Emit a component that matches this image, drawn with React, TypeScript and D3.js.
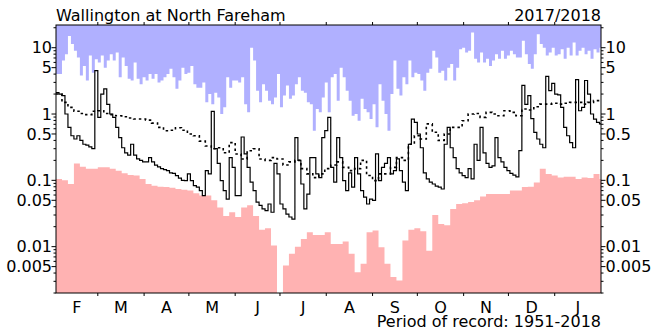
import * as d3 from 'd3';

const TITLE = 'Wallington at North Fareham';
const YEAR_LABEL = '2017/2018';
const RECORD_LABEL = 'Period of record: 1951-2018';
const MONTHS = ['F', 'M', 'A', 'M', 'J', 'J', 'A', 'S', 'O', 'N', 'D', 'J'];
const MONTH_DAYS = [28, 31, 30, 31, 30, 31, 31, 30, 31, 30, 31, 31];
const Y_TICKS = [0.005, 0.01, 0.05, 0.1, 0.5, 1, 5, 10];

// flows in m3/s, one value per 2 days from 1 Feb 2017
const dailyFlow = [
  2.1, 2.0, 1.9, 1.0, 0.63, 0.47, 0.42, 0.47, 0.40, 0.35,
  0.34, 0.32, 0.30, 4.5, 0.89, 2.0, 2.4, 1.4, 1.0, 0.89,
  0.63, 0.44, 0.31, 0.26, 0.24, 0.35, 0.24, 0.21, 0.20, 0.19,
  0.19, 0.22, 0.19, 0.17, 0.16, 0.15, 0.145, 0.14, 0.13, 0.127,
  0.118, 0.108, 0.10, 0.099, 0.125, 0.099, 0.083, 0.079, 0.07, 0.059,
  0.14, 0.125, 1.1, 0.30, 0.18, 0.099, 0.07, 0.052, 0.22, 0.157,
  0.059, 0.059, 0.45, 0.25, 0.157, 0.094, 0.07, 0.047, 0.042, 0.037,
  0.035, 0.044, 0.033, 0.18, 0.125, 0.044, 0.037, 0.031, 0.028, 0.026,
  0.44, 0.20, 0.088, 0.037, 0.062, 0.22, 0.22, 0.125, 0.11, 0.44,
  0.56, 0.89, 0.157, 0.094, 0.44, 0.22, 0.099, 0.07, 0.13, 0.079,
  0.22, 0.125, 0.07, 0.056, 0.044, 0.052, 0.05, 0.25, 0.099, 0.157,
  0.18, 0.22, 0.125, 0.14, 0.21, 0.14, 0.094, 0.07, 0.35, 0.84,
  0.75, 0.5, 0.31, 0.13, 0.105, 0.094, 0.088, 0.082, 0.079, 0.074,
  0.35, 0.63, 0.31, 0.22, 0.15, 0.13, 0.118, 0.11, 0.15, 0.105,
  0.35, 0.20, 0.63, 0.26, 0.18, 0.157, 0.165, 0.44, 0.22, 0.19,
  0.157, 0.14, 0.127, 0.12, 0.113, 0.28, 2.7, 1.4, 1.9, 0.85,
  0.53, 0.42, 0.35, 0.31, 3.7, 2.25, 2.9, 2.0, 1.95, 1.26,
  0.63, 0.47, 0.37, 0.31, 3.3, 1.12, 1.26, 3.2, 2.0, 1.0,
  0.84, 0.75, 0.71,
];

// highest flow on record, 2-day steps
const maxFlow = [
  4.0, 4.0, 6.4, 8.0, 15, 11.4, 9.0, 7.1, 3.8, 5.3,
  3.2, 7.6, 4.2, 6.7, 6.0, 7.6, 5.0, 6.4, 8.0, 6.4,
  8.5, 3.6, 7.1, 5.3, 3.4, 3.2, 6.0, 3.4, 2.8, 3.6,
  3.2, 4.0, 3.4, 4.0, 3.0, 3.2, 3.6, 4.0, 4.8, 3.6,
  2.4, 3.2, 5.0, 4.0, 4.2, 5.3, 2.8, 2.5, 2.5, 3.0,
  1.5, 2.0, 1.4, 2.1, 1.78, 1.0, 1.26, 3.6, 2.5, 3.2,
  3.2, 3.0, 3.6, 1.41, 1.06, 10, 6.4, 2.25, 1.5, 2.8,
  2.25, 1.59, 1.41, 1.78, 4.0, 1.26, 1.9, 2.7, 1.7, 1.9,
  2.8, 3.6, 2.25, 2.1, 1.5, 1.41, 0.56, 1.19, 1.06, 1.78,
  3.0, 1.06, 3.6, 4.0, 1.59, 5.0, 3.6, 2.25, 1.59, 0.94,
  1.0, 0.79, 1.7, 1.19, 1.06, 0.84, 1.41, 0.63, 2.8, 1.59,
  1.0, 0.56, 2.0, 6.4, 2.4, 1.9, 3.6, 2.8, 6.4, 3.6,
  4.2, 4.0, 3.2, 2.25, 4.2, 4.8, 9.0, 7.1, 4.2, 4.5,
  3.2, 5.0, 5.7, 3.2, 5.0, 9.5, 10, 8.5, 9.0, 17,
  6.8, 6.0, 8.5, 6.0, 6.8, 5.3, 6.4, 8.0, 6.8, 9.0,
  6.8, 7.6, 9.0, 8.0, 7.1, 7.1, 12.7, 8.0, 5.7, 4.8,
  8.0, 16, 11.4, 10, 7.6, 8.5, 10, 7.6, 8.0, 9.5,
  6.8, 10, 7.6, 12, 7.6, 9.0, 10, 8.0, 9.0, 6.8,
  9.5, 8.5, 10,
];

// lowest flow on record, 4-day steps (0 = no flow)
const minFlow = [
  0.105, 0.1, 0.088, 0.18, 0.16, 0.15, 0.15, 0.157, 0.157, 0.15,
  0.14, 0.128, 0.12, 0.118, 0.105, 0.088, 0.083, 0.08, 0.079, 0.077,
  0.074, 0.072, 0.07, 0.064, 0.059, 0.059, 0.05, 0.039, 0.029, 0.033,
  0.028, 0.039, 0.042, 0.029, 0.018, 0.019, 0.0104, 0, 0.0052, 0.0078,
  0.01, 0.013, 0.0165, 0.015, 0.015, 0.0165, 0.011, 0.011, 0.012, 0.0078,
  0.0041, 0.0055, 0.0165, 0.0175, 0.0098, 0.0055, 0.0035, 0.0031, 0.0124, 0.018,
  0.019, 0.017, 0.0087, 0.03, 0.022, 0.021, 0.037, 0.044, 0.045, 0.047,
  0.05, 0.057, 0.062, 0.062, 0.062, 0.062, 0.07, 0.07, 0.079, 0.08,
  0.093, 0.15, 0.125, 0.118, 0.11, 0.113, 0.113, 0.105, 0.11, 0.108,
  0.125, 0.105,
];

// mean flow, 4-day steps
const meanFlow = [
  2.0, 1.5, 1.26, 1.1, 1.02, 0.98, 1.1, 1.12, 1.02, 0.98,
  0.94, 0.91, 0.87, 0.84, 0.84, 0.81, 0.73, 0.63, 0.56, 0.57,
  0.62, 0.57, 0.5, 0.47, 0.39, 0.33, 0.30, 0.31, 0.26, 0.37,
  0.25, 0.21, 0.28, 0.30, 0.21, 0.20, 0.22, 0.21, 0.17, 0.19,
  0.20, 0.15, 0.125, 0.11, 0.125, 0.15, 0.17, 0.19, 0.157, 0.14,
  0.15, 0.20, 0.118, 0.099, 0.125, 0.125, 0.157, 0.22, 0.20, 0.35,
  0.47, 0.42, 0.71, 0.53, 0.40, 0.50, 0.63, 0.63, 0.79, 1.0,
  1.02, 0.89, 1.06, 1.0, 0.94, 1.12, 1.06, 0.94, 1.19, 1.15,
  1.29, 1.41, 1.41, 1.45, 1.41, 1.45, 1.5, 1.5, 1.41, 1.5,
  1.59, 1.59,
];

const WIDTH = 660;
const HEIGHT = 333;
const MARGIN = { top: 25, right: 59, bottom: 40, left: 56 };
const DAYS = 365;
const FONT = '"DejaVu Sans", sans-serif';

type Pt = { d: number; v: number };

function steps(values: number[], every: number): Pt[] {
  const pts = values.map((v, i) => ({ d: Math.min(i * every, DAYS), v }));
  pts.push({ d: DAYS, v: values[values.length - 1] });
  return pts;
}

export default function App() {
  const left = MARGIN.left;
  const right = WIDTH - MARGIN.right;
  const top = MARGIN.top;
  const bottom = HEIGHT - MARGIN.bottom;

  const x = d3.scaleLinear().domain([0, DAYS]).range([left, right]);
  const y = d3.scaleLog().domain([0.002, 22]).range([bottom, top]).clamp(true);
  const yv = (v: number) => (v <= 0 ? bottom : y(v));

  const maxArea = d3.area<Pt>()
    .x((p) => x(p.d))
    .y0(top)
    .y1((p) => yv(p.v))
    .curve(d3.curveStepAfter);

  const minArea = d3.area<Pt>()
    .x((p) => x(p.d))
    .y0(bottom)
    .y1((p) => yv(p.v))
    .curve(d3.curveStepAfter);

  const line = d3.line<Pt>()
    .x((p) => x(p.d))
    .y((p) => yv(p.v))
    .curve(d3.curveStepAfter);

  // month boundaries and label positions
  const bounds = d3.cumsum(MONTH_DAYS);
  const starts = [0, ...Array.from(bounds).slice(0, -1)];

  // log ticks, 1..9 per decade
  const logTicks: { v: number; major: boolean }[] = [];
  for (let e = -3; e <= 1; e++) {
    for (let k = 1; k <= 9; k++) {
      const v = +(k * Math.pow(10, e)).toPrecision(3);
      if (v < 0.002 || v > 22) continue;
      logTicks.push({ v, major: Y_TICKS.includes(v) });
    }
  }

  return (
    <svg
      width={WIDTH}
      height={HEIGHT}
      style={{ position: 'absolute', left: 0, top: 0, background: '#fff' }}
      fontFamily={FONT}
    >
      <path d={maxArea(steps(maxFlow, 2)) ?? ''} fill="#b0b0ff" />
      <path d={minArea(steps(minFlow, 4)) ?? ''} fill="#ffb2b2" />
      <path
        d={line(steps(meanFlow, 4)) ?? ''}
        fill="none"
        stroke="#000"
        strokeWidth={1.6}
        strokeDasharray="2.5,3"
      />
      <path d={line(steps(dailyFlow, 2)) ?? ''} fill="none" stroke="#000" strokeWidth={1.2} />

      <rect x={left} y={top} width={right - left} height={bottom - top} fill="none" stroke="#000" strokeWidth={1} />

      {/* month ticks */}
      {Array.from(bounds).slice(0, -1).map((b, i) => (
        <g key={`mt${i}`} stroke="#000">
          <line x1={x(b)} x2={x(b)} y1={bottom} y2={bottom + 3} />
          <line x1={x(b)} x2={x(b)} y1={top} y2={top - 3} />
        </g>
      ))}
      {MONTHS.map((m, i) => (
        <text
          key={`ml${i}`}
          x={x(starts[i] + MONTH_DAYS[i] / 2)}
          y={313}
          fontSize={16}
          textAnchor="middle"
        >
          {m}
        </text>
      ))}

      {/* y ticks both sides */}
      {logTicks.map((t, i) => {
        const len = t.major ? 4.5 : 2.5;
        const ty = y(t.v);
        return (
          <g key={`yt${i}`} stroke="#000">
            <line x1={left - len} x2={left} y1={ty} y2={ty} />
            <line x1={right} x2={right + len} y1={ty} y2={ty} />
          </g>
        );
      })}
      {Y_TICKS.map((v) => (
        <g key={`yl${v}`} fontSize={16}>
          <text x={left - 4} y={y(v)} dy="0.36em" textAnchor="end">{String(v)}</text>
          <text x={right + 4.5} y={y(v)} dy="0.36em" textAnchor="start">{String(v)}</text>
        </g>
      ))}

      <text x={left} y={20.5} fontSize={16}>{TITLE}</text>
      <text x={right} y={20.5} fontSize={16} textAnchor="end">{YEAR_LABEL}</text>
      <text x={right} y={327} fontSize={16} textAnchor="end">{RECORD_LABEL}</text>
    </svg>
  );
}
